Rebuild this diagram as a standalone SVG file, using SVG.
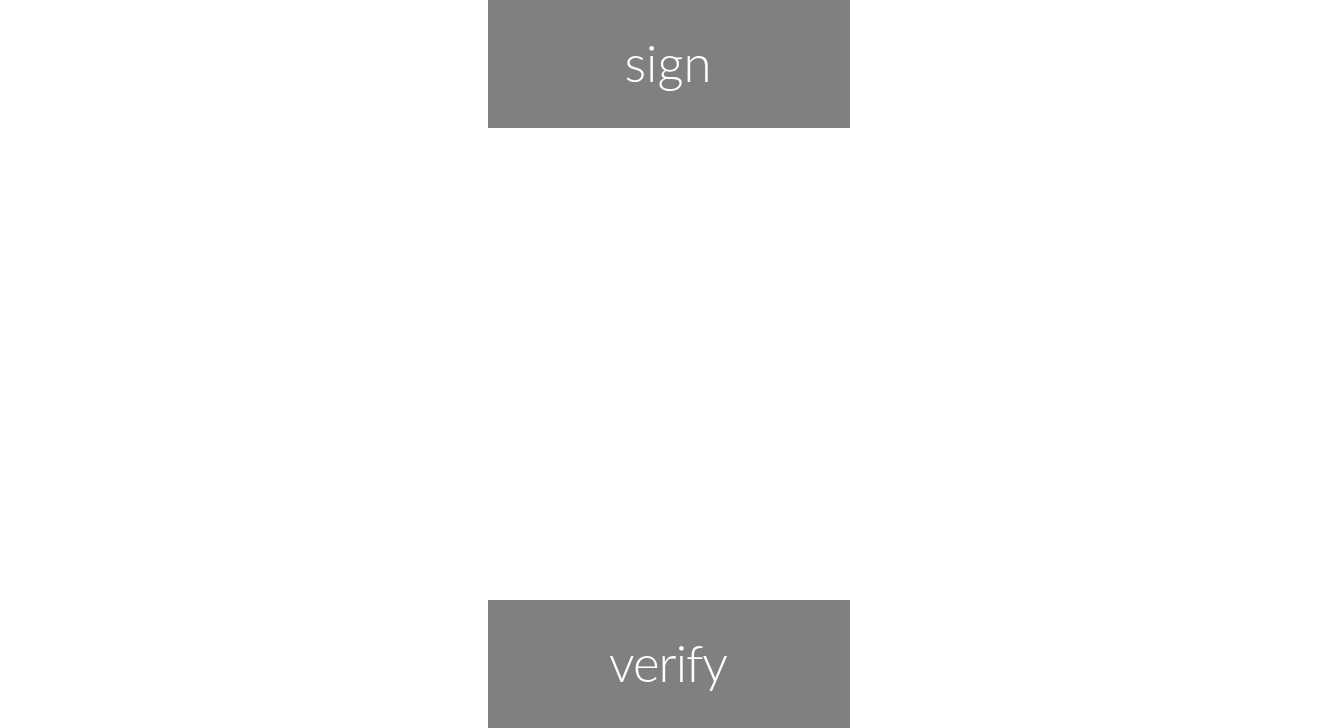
<svg xmlns="http://www.w3.org/2000/svg" width="1338" height="728" viewBox="0 0 1338 728">
<style>
.box{fill:#808080}
.lbl{fill:#ffffff;font-family:Lato,"Open Sans","Liberation Sans",sans-serif;font-weight:300;font-size:51px;text-anchor:middle}
</style>
<rect x="0" y="0" width="1338" height="728" fill="#ffffff"/>
<g id="connectors"></g>
<g id="sign">
<rect class="box" x="488" y="0" width="362" height="128"/>
<text class="lbl" x="668" y="82">sign</text>
</g>
<g id="verify">
<rect class="box" x="488" y="600" width="362" height="128"/>
<text class="lbl" x="668" y="682" letter-spacing="-1">verify</text>
</g>
</svg>
